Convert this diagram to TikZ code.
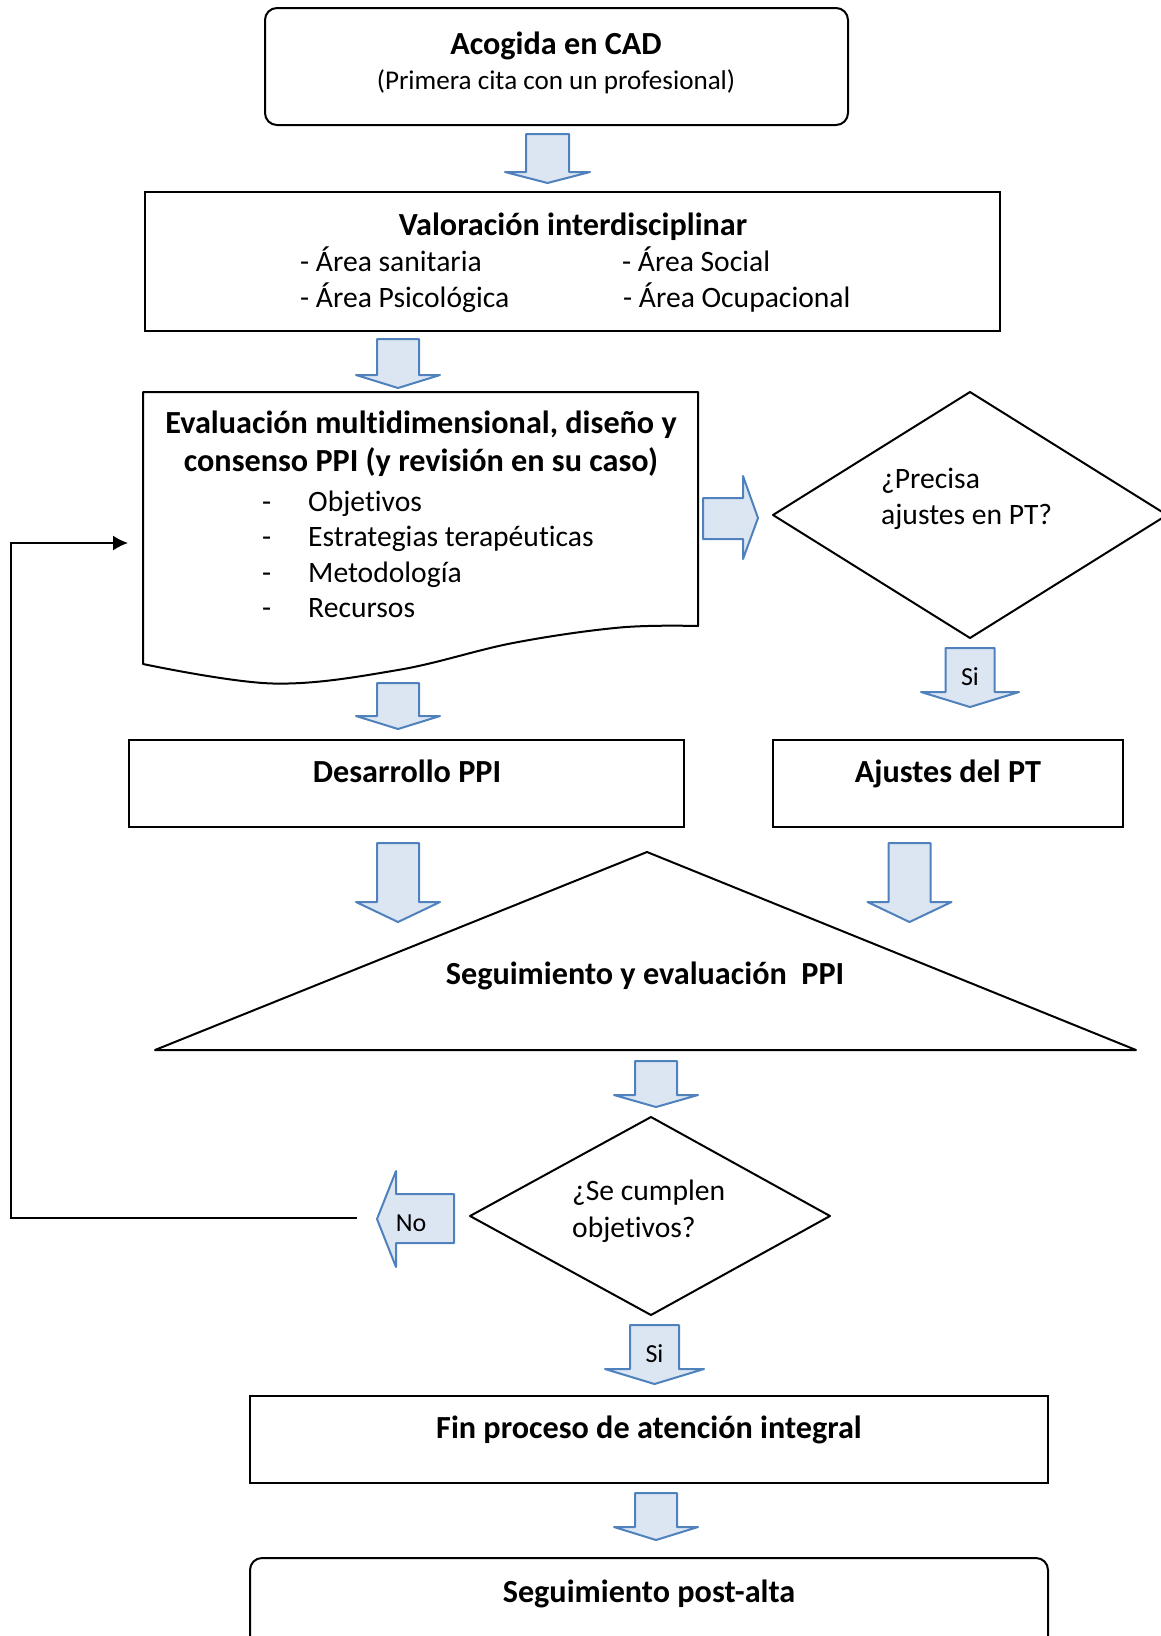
\documentclass[tikz,border=0pt]{standalone}
\usepackage{fontspec}
\setmainfont{Carlito}[Ligatures=NoCommon]
\usetikzlibrary{arrows.meta}
\definecolor{afill}{RGB}{220,230,242}
\definecolor{aline}{RGB}{79,129,189}
\newcommand\fsz[1]{\fontsize{#1}{#1}\selectfont}
\newcommand\blkdown[6]{%
  \draw[barrow] ({#1-#3},#2) -- ({#1+#3},#2) -- ({#1+#3},#5) -- ({#1+#4},#5) -- (#1,#6) -- ({#1-#4},#5) -- ({#1-#3},#5) -- cycle;}
\begin{document}
\begin{tikzpicture}[x=1pt,y=-1pt,
  box/.style={draw=black,line width=2pt,inner sep=0pt},
  shapeline/.style={draw=black,line width=2pt,line join=round},
  barrow/.style={draw=aline,fill=afill,line width=2pt,line join=round},
  fixh/.style={inner sep=0pt,text height=25pt,text depth=7pt},
  tb/.style={fixh,font=\fsz{32.2}\bfseries},
  tr/.style={fixh,font=\fsz{29.6}},
  ts/.style={fixh,font=\fsz{27.1}},
  tl/.style={fixh,font=\fsz{29.6},anchor=west},
  lab/.style={fixh,font=\fsz{26}}]
\useasboundingbox[fill=white] (0,0) rectangle (1161,1636);

% Acogida
\node[box,rounded corners=12pt,minimum width=583pt,minimum height=117pt] (acogbox) at (556.5,66.5) {};
\node[tb] (acog) at (556,45) {Acogida en CAD};
\node[ts] (acogsub) at (556,80.5) {(Primera cita con un profesional)};

\blkdown{547.5}{134}{21.5}{42.5}{172}{183}

% Valoracion
\node[box,minimum width=855pt,minimum height=139pt] (valbox) at (572.5,261.5) {};
\node[tb] (val) at (573,226) {Valoración interdisciplinar};
\node[tl] (a1) at (300,262) {- Área sanitaria};
\node[tl] (a2) at (622,262) {- Área Social};
\node[tl] (a3) at (300,298.5) {- Área Psicológica};
\node[tl] (a4) at (623,298.5) {- Área Ocupacional};

\blkdown{398}{339}{21}{42}{375}{388}

% Document shape
\draw[shapeline] (143,392) -- (698,392) -- (698,626)
  -- plot[smooth,tension=0.6] coordinates {(698,626) (620,627.5) (513,643) (398,670) (273,683.5) (143,664)} -- cycle;
\node[tb] (ev1) at (421,424) {Evaluación multidimensional, diseño y};
\node[tb] (ev2) at (421,462.5) {consenso PPI (y revisión en su caso)};
\node[tl] (d1) at (262,502) {-};
\node[tl] (d2) at (262,537.5) {-};
\node[tl] (d3) at (262,573) {-};
\node[tl] (d4) at (262,608.5) {-};
\node[tl] (l1) at (308,502) {Objetivos};
\node[tl] (l2) at (308,537.5) {Estrategias terapéuticas};
\node[tl] (l3) at (308,573) {Metodología};
\node[tl] (l4) at (308,608.5) {Recursos};

% right block arrow
\draw[barrow] (703,498) -- (743,498) -- (743,476) -- (758,518) -- (743,559) -- (743,539) -- (703,539) -- cycle;

% Diamond 1
\draw[shapeline] (773,515) -- (970,392) -- (1167,515) -- (970,638) -- cycle;
\node[tl] (q1a) at (881,479) {¿Precisa};
\node[tl] (q1b) at (881,515.5) {ajustes en PT?};

\blkdown{970}{648}{24.5}{49}{692}{707}
\node[lab] (si1) at (970,676) {Si};

\blkdown{398}{683}{21}{42}{716}{729}

% Desarrollo / Ajustes
\node[box,minimum width=555pt,minimum height=87pt] (desbox) at (406.5,783.5) {};
\node[tb] (des) at (407,773.5) {Desarrollo PPI};
\node[box,minimum width=350pt,minimum height=87pt] (ajbox) at (948,783.5) {};
\node[tb] (aj) at (948,773.5) {Ajustes del PT};

\blkdown{398}{843}{21}{42}{902}{922}
\blkdown{909.5}{843}{21}{42}{902}{922}

% Triangle
\draw[shapeline] (647,852) -- (1136,1050) -- (155,1050) -- cycle;
\node[tb] (seg) at (645,975) {Seguimiento y evaluación\ \ PPI};

\blkdown{656}{1061}{21}{42}{1095}{1107}

% Diamond 2
\draw[shapeline] (470,1216) -- (651,1117) -- (830,1216) -- (651,1315) -- cycle;
\node[tl] (q2a) at (572,1191) {¿Se cumplen};
\node[tl] (q2b) at (572,1228) {objetivos?};

% No arrow
\draw[barrow] (454,1194) -- (454,1243) -- (396,1243) -- (396,1267) -- (377,1219) -- (396,1171) -- (396,1194) -- cycle;
\node[lab] (no) at (411,1222) {No};
\coordinate (noend) at (357,1218);
\coordinate (docin) at (128,543);
\draw[line width=1.6pt,-{Latex[length=15pt,width=15pt]}] (noend) -- (11,1218) -- (11,543) -- (docin);

\blkdown{654.5}{1325}{24.5}{49.5}{1369}{1384}
\node[lab] (si2) at (654.5,1353) {Si};

% Fin
\node[box,minimum width=798pt,minimum height=87pt] (finbox) at (649,1439.5) {};
\node[tb] (fin) at (649,1429.5) {Fin proceso de atención integral};

\blkdown{656}{1493}{21}{42}{1527}{1540}

% Post-alta
\node[box,rounded corners=12pt,minimum width=798pt,minimum height=140pt] (postbox) at (649,1628) {};
\node[tb] (post) at (649,1593.5) {Seguimiento post-alta};
\end{tikzpicture}
\end{document}
